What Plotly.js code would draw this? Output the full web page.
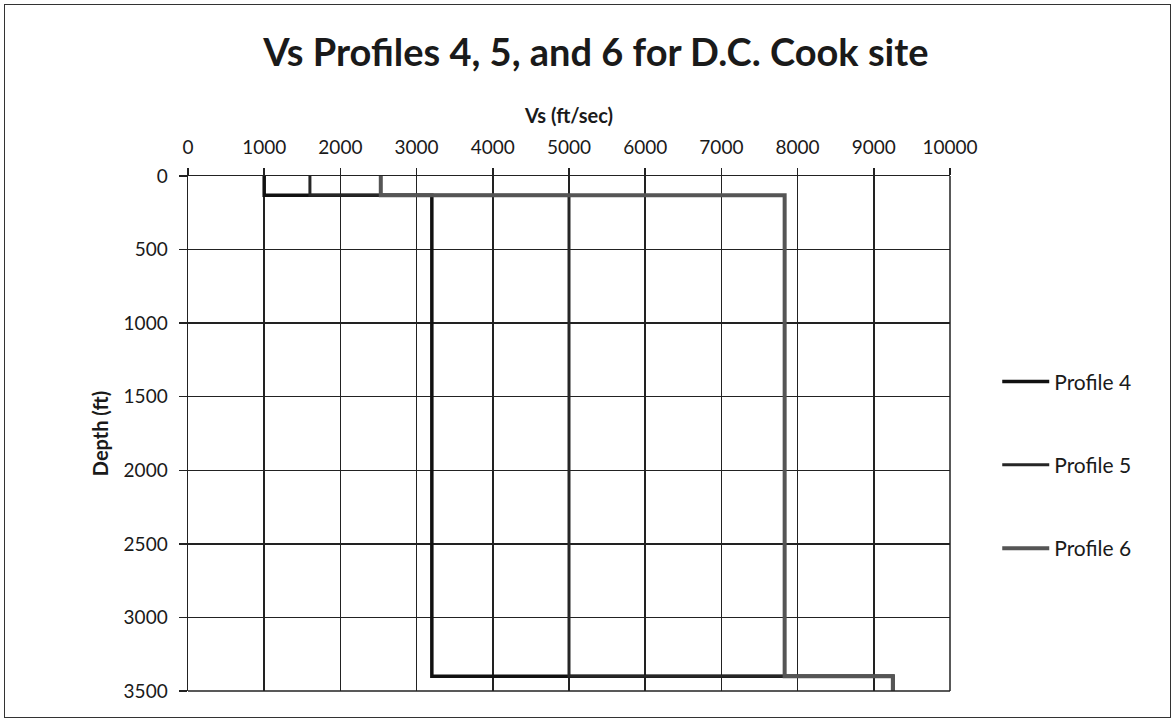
<!DOCTYPE html>
<html>
<head>
<meta charset="utf-8">
<script src="https://cdn.plot.ly/plotly-3.0.1.min.js"></script>
<style>
  html, body { margin: 0; padding: 0; background: #fff; }
  #frame { position: absolute; left: 4px; top: 4px; width: 1167px; height: 714px; border: 1.5px solid #333; box-sizing: border-box; }
  #chart { position: absolute; left: 0; top: 0; width: 1173px; height: 725px; }
</style>
</head>
<body>
<div id="frame"></div>
<div id="chart"></div>
<script>
// Series names
const profileNames = ["Profile 4", "Profile 5", "Profile 6"];
// Vs (ft/sec) for each profile, listed as step vertices
const vsProfile4 = [1000, 1000, 3200, 3200, 9250, 9250];
const vsProfile5 = [1600, 1600, 5000, 5000, 9250, 9250];
const vsProfile6 = [2530, 2530, 7830, 7830, 9250, 9250];
// Depth (ft) matching the vertices above
const depthProfile4 = [0, 130, 130, 3400, 3400, 3500];
const depthProfile5 = [0, 130, 130, 3400, 3400, 3500];
const depthProfile6 = [0, 130, 130, 3400, 3400, 3500];
// Axis ticks
const xTicks = [0, 1000, 2000, 3000, 4000, 5000, 6000, 7000, 8000, 9000, 10000];
const yTicks = [0, 500, 1000, 1500, 2000, 2500, 3000, 3500];

const FONT = "Lato, 'Open Sans', sans-serif";

const styles = [
  {color: "#111111", width: 3.5},
  {color: "#262626", width: 3},
  {color: "#555555", width: 4}
];
const xs = [vsProfile4, vsProfile5, vsProfile6];
const ys = [depthProfile4, depthProfile5, depthProfile6];

const traces = profileNames.map((name, i) => ({
  type: "scatter",
  mode: "lines",
  name: name,
  x: xs[i],
  y: ys[i],
  line: {color: styles[i].color, width: styles[i].width},
  legendgroup: "g" + i,
  cliponaxis: false
}));

const layout = {
  width: 1173,
  height: 725,
  paper_bgcolor: "rgba(0,0,0,0)",
  plot_bgcolor: "#ffffff",
  margin: {l: 188, r: 223, t: 176, b: 34},
  title: {
    text: "<b>Vs Profiles 4, 5, and 6 for D.C. Cook site</b>",
    font: {family: FONT, size: 38, color: "#1a1a1a"},
    x: 0.508, xref: "container", xanchor: "center",
    y: 0.928, yref: "container", yanchor: "middle"
  },
  xaxis: {
    side: "top",
    range: [0, 10000],
    tickvals: xTicks,
    ticktext: xTicks.map(String),
    showgrid: true,
    gridcolor: "#222",
    gridwidth: 1.5,
    showline: true,
    linecolor: "#222",
    linewidth: 1.5,
    ticks: "outside",
    ticklen: 7,
    tickcolor: "#222",
    tickwidth: 1.5,
    ticklabelstandoff: 6,
    zeroline: false,
    tickfont: {family: FONT, size: 19, color: "#1a1a1a"},
    title: {text: "<b>Vs (ft/sec)</b>", font: {family: FONT, size: 20, color: "#1a1a1a"}, standoff: 6},
    fixedrange: true
  },
  yaxis: {
    range: [3500, 0],
    tickvals: yTicks,
    ticktext: yTicks.map(String),
    showgrid: true,
    gridcolor: "#222",
    gridwidth: 1.5,
    showline: true,
    linecolor: "#222",
    linewidth: 1.5,
    ticks: "outside",
    ticklen: 8,
    tickcolor: "#222",
    tickwidth: 1.5,
    ticklabelstandoff: 7,
    zeroline: false,
    tickfont: {family: FONT, size: 19, color: "#1a1a1a"},
    title: {text: "<b>Depth (ft)</b>", font: {family: FONT, size: 20, color: "#1a1a1a"}, standoff: 9},
    fixedrange: true
  },
  showlegend: true,
  legend: {
    x: 1.062, xanchor: "left",
    y: 0.439, yanchor: "middle",
    traceorder: "grouped",
    tracegroupgap: 53,
    itemwidth: 47,
    bgcolor: "rgba(0,0,0,0)",
    borderwidth: 0,
    font: {family: FONT, size: 21, color: "#1a1a1a"}
  },
  shapes: [
    {type: "line", xref: "paper", yref: "paper", x0: 0, x1: 1, y0: 0, y1: 0, line: {color: "#222", width: 1.5}},
    {type: "line", xref: "paper", yref: "paper", x0: 1, x1: 1, y0: 0, y1: 1, line: {color: "#222", width: 1.5}}
  ]
};

Plotly.newPlot("chart", traces, layout, {displayModeBar: false, staticPlot: true});
</script>
</body>
</html>
